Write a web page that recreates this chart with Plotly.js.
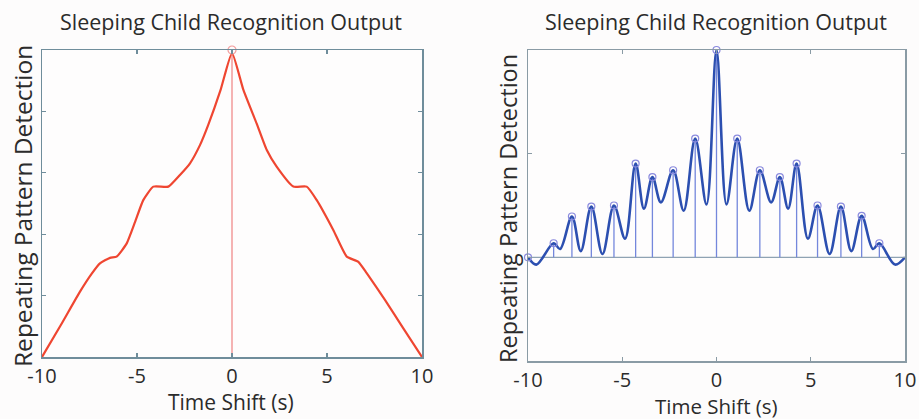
<!DOCTYPE html>
<html>
<head>
<meta charset="utf-8">
<script src="https://cdn.plot.ly/plotly-3.0.1.min.js"></script>
<style>
  html, body { margin: 0; padding: 0; background: #fdfcfc; }
  #chart { width: 919px; height: 419px; }
</style>
</head>
<body>
<div id="chart"></div>
<script>
// Left panel: autocorrelation envelope (red)
const leftX = [-10, -9, -8, -7.4, -6.95, -6.42, -6.07, -5.54, -5.1, -4.67, -4.14, -3.35, -2.74, -2.21, -1.68, -1.25, -0.6, 0,
               0.6, 1.3, 1.83, 2.35, 3.23, 3.93, 4.46, 5.33, 6.04, 6.65, 7.09, 8.05, 9, 10];
const leftY = [0, 0.105, 0.213, 0.27, 0.305, 0.323, 0.327, 0.37, 0.44, 0.511, 0.555, 0.555, 0.593, 0.631, 0.691, 0.756, 0.87, 0.99,
               0.87, 0.76, 0.674, 0.62, 0.555, 0.555, 0.511, 0.414, 0.327, 0.31, 0.273, 0.186, 0.095, 0];
const leftStemX = [0];
const leftStemY = [1];

// Right panel: smoothed detection curve (blue) through its peaks and troughs
const rightX = [-10, -9.56, -8.64, -8.3, -7.67, -7.2, -6.64, -6.05, -5.44, -4.85, -4.29, -3.85, -3.40, -2.95, -2.30, -1.74, -1.13, -0.53, 0,
                0.53, 1.10, 1.74, 2.30, 2.90, 3.36, 3.80, 4.25, 4.85, 5.36, 6.00, 6.60, 7.15, 7.70, 8.30, 8.64, 9.47, 10];
const rightY = [0, -0.035, 0.068, 0.04, 0.197, 0.03, 0.245, 0.016, 0.25, 0.09, 0.452, 0.235, 0.387, 0.265, 0.42, 0.225, 0.573, 0.255, 1,
                0.255, 0.573, 0.225, 0.42, 0.265, 0.387, 0.235, 0.452, 0.09, 0.25, 0.016, 0.245, 0.03, 0.2, 0.04, 0.068, -0.035, 0];
// Detected repetition peaks (stems)
const peakX = [-10, -8.64, -7.67, -6.64, -5.44, -4.29, -3.40, -2.30, -1.13, 0, 1.10, 2.30, 3.36, 4.25, 5.36, 6.60, 7.70, 8.64];
const peakY = [0, 0.068, 0.197, 0.245, 0.25, 0.452, 0.387, 0.42, 0.573, 1, 0.573, 0.42, 0.387, 0.452, 0.25, 0.245, 0.2, 0.068];

const xTicks = [-10, -5, 0, 5, 10];
const xTickText = ['-10', '-5', '0', '5', '10'];
const titleText = 'Sleeping Child Recognition Output';
const xTitle = 'Time Shift (s)';
const yTitle = 'Repeating Pattern Detection';

function stemPath(xs, ys) {
  const sx = [], sy = [];
  xs.forEach((x, i) => { sx.push(x, x, null); sy.push(0, ys[i], null); });
  return { sx, sy };
}

const W = 919, H = 419;
const FONT = '"Open Sans", "Noto Sans", sans-serif';
const INK = '#2b2b2b';
const px = v => v / W;
const py = v => 1 - v / H;

const ls = stemPath(leftStemX, leftStemY);
const rs = stemPath(peakX, peakY);

const traces = [
  { x: ls.sx, y: ls.sy, xaxis: 'x', yaxis: 'y', mode: 'lines',
    line: { color: '#f29a9a', width: 1.5 }, hoverinfo: 'skip' },
  { x: leftX, y: leftY, xaxis: 'x', yaxis: 'y', mode: 'lines',
    line: { color: '#ef4631', width: 2.2, shape: 'spline', smoothing: 0.5 } },
  { x: leftStemX, y: leftStemY, xaxis: 'x', yaxis: 'y', mode: 'markers', cliponaxis: false,
    marker: { symbol: 'circle-open', size: 8, color: '#f39c9c', line: { width: 1.2 } } },

  { x: [-10, 10], y: [0, 0], xaxis: 'x2', yaxis: 'y2', mode: 'lines',
    line: { color: '#8fa3b3', width: 1.2 }, hoverinfo: 'skip' },
  { x: rs.sx, y: rs.sy, xaxis: 'x2', yaxis: 'y2', mode: 'lines',
    line: { color: '#7487dc', width: 1.3 }, hoverinfo: 'skip' },
  { x: rightX, y: rightY, xaxis: 'x2', yaxis: 'y2', mode: 'lines',
    line: { color: '#2c4fb0', width: 2.6, shape: 'spline', smoothing: 1 } },
  { x: peakX, y: peakY, xaxis: 'x2', yaxis: 'y2', mode: 'markers', cliponaxis: false,
    marker: { symbol: 'circle-open', size: 7, color: '#8a8ade', line: { width: 1.2 } } }
];

const axisCommon = {
  showgrid: false, zeroline: false, showline: true, mirror: 'ticks',
  ticks: 'inside', ticklen: 4, tickwidth: 1.2,
  tickfont: { family: FONT, size: 20, color: INK }
};

function note(text, x, y, size, angle) {
  return { text, xref: 'paper', yref: 'paper', x: px(x), y: py(y), showarrow: false,
           textangle: angle || 0, xanchor: 'center', yanchor: 'middle',
           font: { family: FONT, size, color: INK } };
}

const layout = {
  width: W, height: H,
  margin: { l: 0, r: 0, t: 0, b: 0 },
  paper_bgcolor: '#fdfcfc', plot_bgcolor: '#fefdfd',
  showlegend: false,
  xaxis: Object.assign({}, axisCommon, {
    domain: [px(42), px(422)], range: [-10, 10], tickvals: xTicks, ticktext: xTickText,
    linecolor: '#6f8d9b', tickcolor: '#6f8d9b', linewidth: 1.5, anchor: 'y'
  }),
  yaxis: Object.assign({}, axisCommon, {
    domain: [py(357), py(50)], range: [0, 1], dtick: 0.2, showticklabels: false,
    linecolor: '#6f8d9b', tickcolor: '#6f8d9b', linewidth: 1.5, anchor: 'x'
  }),
  xaxis2: Object.assign({}, axisCommon, {
    domain: [px(528), px(905)], range: [-10, 10], tickvals: xTicks, ticktext: xTickText,
    linecolor: '#8a9ba5', tickcolor: '#8a9ba5', linewidth: 1.5, anchor: 'y2'
  }),
  yaxis2: Object.assign({}, axisCommon, {
    domain: [py(361), py(50)], range: [-0.5, 1], dtick: 0.5, showticklabels: false,
    linecolor: '#8a9ba5', tickcolor: '#8a9ba5', linewidth: 1.5, anchor: 'x2'
  }),
  annotations: [
    note(titleText, 231, 21, 21.5),
    note(titleText, 716, 21, 21.5),
    note(xTitle, 231, 402, 21),
    note(xTitle, 716, 406, 20.5),
    note(yTitle, 22, 206, 24.5, -90),
    note(yTitle, 508, 209, 23.5, -90)
  ]
};

Plotly.newPlot('chart', traces, layout, { staticPlot: true, displayModeBar: false });
</script>
</body>
</html>
